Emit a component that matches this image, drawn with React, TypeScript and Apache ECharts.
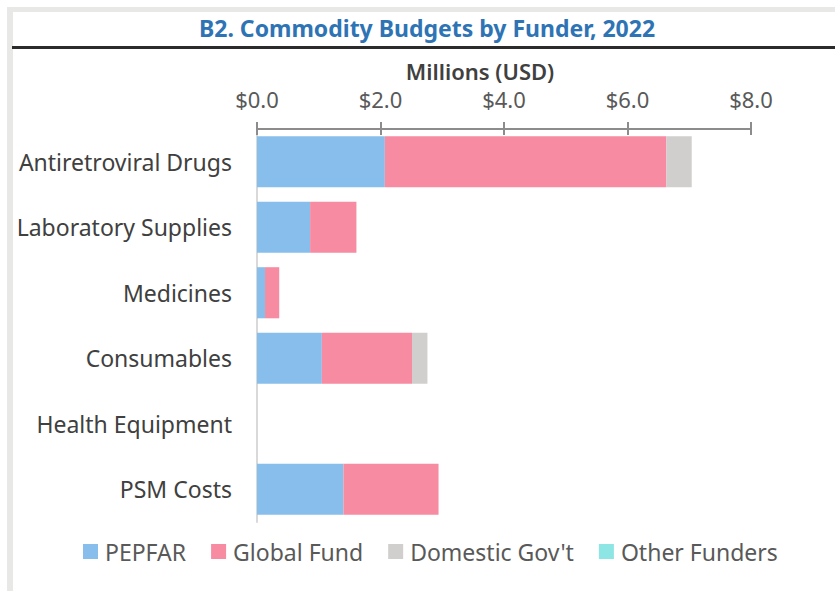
import React, { useEffect, useRef } from "react";
import * as echarts from "echarts";

const categories = [
  "Antiretroviral Drugs",
  "Laboratory Supplies",
  "Medicines",
  "Consumables",
  "Health Equipment",
  "PSM Costs",
];
const pepfar = [2.07, 0.86, 0.13, 1.05, 0, 1.4];
const globalFund = [4.56, 0.75, 0.23, 1.46, 0, 1.54];
const domesticGov = [0.41, 0, 0, 0.25, 0, 0];
const otherFunders = [0, 0, 0, 0, 0, 0];
const seriesNames = ["PEPFAR", "Global Fund", "Domestic Gov't", "Other Funders"];
const seriesColors = ["#87BEEC", "#F68BA1", "#D1CFCD", "#8EE6E4"];

const FONT = "'Noto Sans', sans-serif";

export default function App() {
  const ref = useRef<HTMLDivElement>(null);
  useEffect(() => {
    if (!ref.current) return;
    const chart = echarts.init(ref.current, undefined, { renderer: "svg" });
    const data = [pepfar, globalFund, domesticGov, otherFunders];
    chart.setOption({
      animation: false,
      backgroundColor: "#ffffff",
      textStyle: { fontFamily: FONT },
      graphic: [
        { type: "rect", shape: { x: 7, y: 7, width: 828, height: 5 }, style: { fill: "#E8E8E6" }, silent: true },
        { type: "rect", shape: { x: 7, y: 7, width: 6, height: 584 }, style: { fill: "#E8E8E6" }, silent: true },
        { type: "rect", shape: { x: 12, y: 46, width: 823, height: 3 }, style: { fill: "#2b2b2b" }, silent: true },
        {
          type: "text",
          x: 427,
          y: 28,
          style: {
            text: "B2. Commodity Budgets by Funder, 2022",
            fill: "#2E74B5",
            font: `bold 23px ${FONT}`,
            align: "center",
            verticalAlign: "middle",
          },
        },
      ],
      legend: {
        data: seriesNames,
        left: 78,
        top: 535,
        itemWidth: 15,
        itemHeight: 15,
        itemGap: 25,
        icon: "rect",
        textStyle: { fontSize: 23, color: "#595959", fontFamily: FONT, padding: [0, 0, 0, 2] },
      },
      grid: { left: 257, right: 84, top: 129, bottom: 69, containLabel: false },
      xAxis: [
        {
          type: "value",
          position: "top",
          min: 0,
          max: 8,
          interval: 2,
          name: "Millions (USD)",
          nameLocation: "middle",
          nameGap: 48,
          nameTextStyle: {
            fontSize: 22,
            lineHeight: 20,
            fontWeight: 600,
            color: "#404040",
            fontFamily: FONT,
            padding: [0, 48, 0, 0],
          },
          axisLine: { show: true, lineStyle: { color: "#8C8C8C", width: 2 } },
          axisTick: { show: true, length: 7, lineStyle: { color: "#8C8C8C", width: 2 } },
          axisLabel: {
            margin: 20,
            fontSize: 22,
            lineHeight: 20,
            color: "#595959",
            fontFamily: FONT,
            formatter: (v: number) => "$" + v.toFixed(1),
          },
          splitLine: { show: false },
        },
        {
          type: "value",
          position: "top",
          min: 0,
          max: 8,
          interval: 2,
          axisLine: { show: false },
          axisTick: { show: true, inside: true, length: 6, lineStyle: { color: "#8C8C8C", width: 2 } },
          axisLabel: { show: false },
          splitLine: { show: false },
        },
      ],
      yAxis: {
        type: "category",
        inverse: true,
        data: categories,
        axisLine: { show: true, lineStyle: { color: "#D9D9D9", width: 2 } },
        axisTick: { show: false },
        axisLabel: { margin: 25, fontSize: 23, color: "#404040", fontFamily: FONT },
      },
      series: seriesNames.map((name, i) => ({
        name,
        type: "bar",
        stack: "total",
        xAxisIndex: 0,
        barCategoryGap: "22%",
        itemStyle: { color: seriesColors[i] },
        data: data[i],
      })),
    });
    return () => chart.dispose();
  }, []);
  return (
    <div
      ref={ref}
      style={{ position: "fixed", left: 0, top: 0, width: 835, height: 591 }}
    />
  );
}
